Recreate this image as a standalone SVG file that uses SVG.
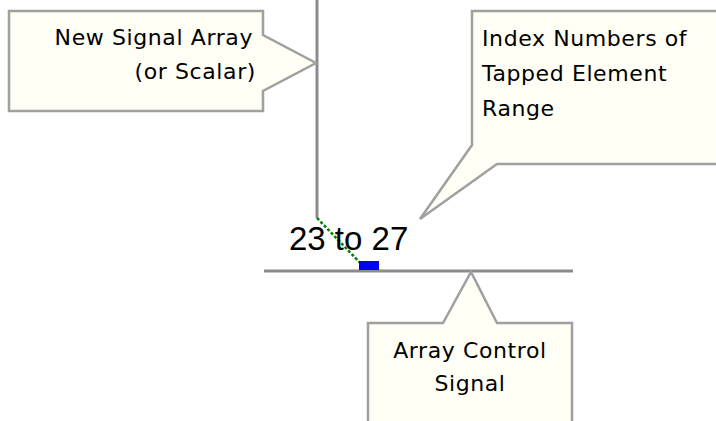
<svg xmlns="http://www.w3.org/2000/svg" width="716" height="421" viewBox="0 0 716 421">
<style>
.callout{fill:#fffff6;stroke:#a0a0a0;stroke-width:2.5;stroke-linejoin:miter}
.lbl{font-family:"DejaVu Sans",Verdana,sans-serif;font-size:22px;letter-spacing:0.6px;fill:#000}
.wire{stroke:#8c8c8c;stroke-width:3;fill:none}
</style>
<rect x="0" y="0" width="716" height="421" fill="#ffffff"/>
<g id="connectors">
<line class="wire" x1="317" y1="0" x2="317" y2="218"/>
<line class="wire" x1="264" y1="271" x2="573" y2="271"/>
<line x1="317" y1="218" x2="366" y2="269" stroke="#008000" stroke-width="2.5" stroke-dasharray="3 2"/>
</g>
<g id="index-array">
<rect x="359" y="261" width="20" height="9" fill="#0000ff"/>
<text x="289" y="250" font-family="Liberation Sans,Arial,sans-serif" font-size="33" fill="#000">23 to 27</text>
</g>
<g id="callout-new-signal">
<path class="callout" d="M9,11 H263 V35 L316,63 L263,91 V111 H9 Z"/>
<text class="lbl" text-anchor="end"><tspan x="253" y="45">New Signal Array</tspan><tspan x="256" y="79">(or Scalar)</tspan></text>
</g>
<g id="callout-index-numbers">
<path class="callout" d="M720,11 H472 V145 L420,219 L497,164 H720 Z"/>
<text class="lbl"><tspan x="482" y="46">Index Numbers of</tspan><tspan x="482" y="81">Tapped Element</tspan><tspan x="482" y="116">Range</tspan></text>
</g>
<g id="callout-array-control">
<path class="callout" d="M368,425 V323 H443 L471,272 L497,323 H572 V425"/>
<text class="lbl" text-anchor="middle"><tspan x="470" y="358">Array Control</tspan><tspan x="470" y="391">Signal</tspan></text>
</g>
</svg>
